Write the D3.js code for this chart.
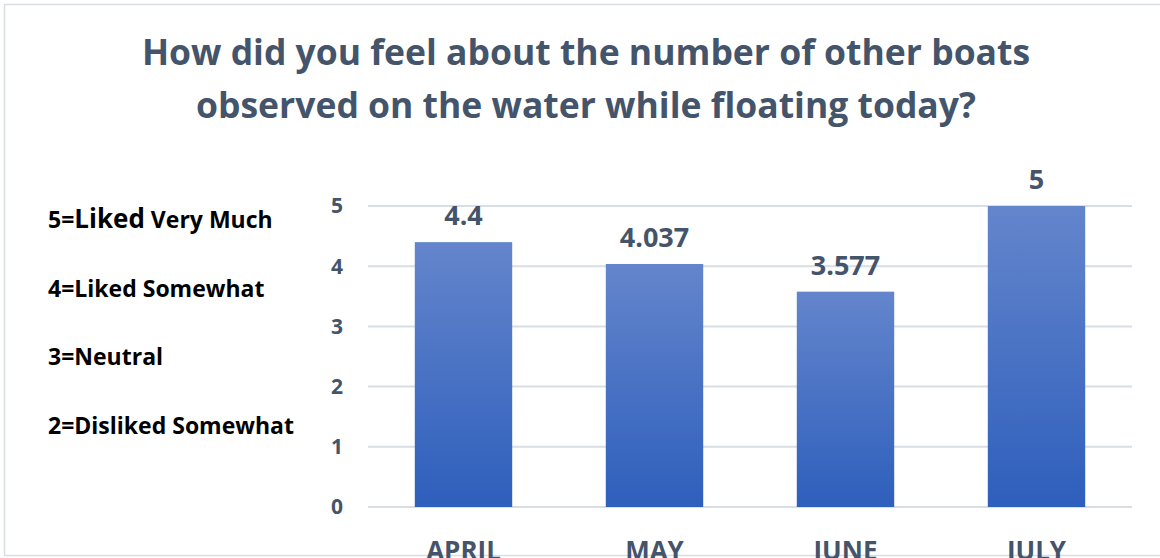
<!doctype html>
<html lang="en">
<head>
<meta charset="UTF-8">
<title>boats</title>
<script src="https://cdn.jsdelivr.net/npm/d3@7"></script>
<style>
  body { margin: 0; background: #fff; }
  text { font-family: "Open Sans", "Liberation Sans", sans-serif; font-weight: bold; }
</style>
</head>
<body>
<script>
  var width = 1160, height = 558;
  var margin = {left: 368, right: 28, top: 206, bottom: 51};

  var months = ["APRIL", "MAY", "JUNE", "JULY"];
  var scores = [4.4, 4.037, 3.577, 5];
  var labels = ["4.4", "4.037", "3.577", "5"];
  var yTicks = [0, 1, 2, 3, 4, 5];
  var titleLines = ["How did you feel about the number of other boats",
                    "observed on the water while floating today?"];
  var scaleNotes = [["5=", "Liked", " Very Much"], ["4=", "Liked", " Somewhat"],
                    ["3=", "Neutral", ""], ["2=", "Disliked", " Somewhat"]];

  var svg = d3.select("body").append("svg")
      .attr("width", width)
      .attr("height", height);

  // bar gradient
  var grad = svg.append("defs").append("linearGradient")
      .attr("id", "barFill")
      .attr("x1", 0).attr("y1", 0).attr("x2", 0).attr("y2", 1);
  grad.append("stop").attr("offset", "0%").attr("stop-color", "#6485cc");
  grad.append("stop").attr("offset", "100%").attr("stop-color", "#2e5fbc");

  // frame
  svg.append("rect")
      .attr("x", 4.5).attr("y", 4.5)
      .attr("width", width + 10).attr("height", height - 7)
      .attr("fill", "none")
      .attr("stroke", "#d9dde4")
      .attr("stroke-width", 1.5);

  var x = d3.scaleBand()
      .domain(months)
      .range([margin.left, width - margin.right])
      .paddingInner(0.49)
      .paddingOuter(0.245);

  var y = d3.scaleLinear()
      .domain([0, 5])
      .range([height - margin.bottom, margin.top]);

  // gridlines
  svg.append("g").selectAll("line")
      .data(yTicks)
      .enter().append("line")
      .attr("x1", margin.left)
      .attr("x2", width - margin.right)
      .attr("y1", function(d) { return y(d); })
      .attr("y2", function(d) { return y(d); })
      .attr("stroke", "#d9dde4")
      .attr("stroke-width", 2);

  // y tick labels
  svg.append("g").selectAll("text")
      .data(yTicks)
      .enter().append("text")
      .attr("x", 337)
      .attr("y", function(d) { return y(d); })
      .attr("dy", "0.35em")
      .attr("text-anchor", "middle")
      .attr("fill", "#44546a")
      .style("font-size", "21px")
      .text(function(d) { return d; });

  // bars
  svg.append("g").selectAll("rect")
      .data(scores)
      .enter().append("rect")
      .attr("x", function(d, i) { return x(months[i]); })
      .attr("y", function(d) { return y(d); })
      .attr("width", x.bandwidth())
      .attr("height", function(d) { return y(0) - y(d); })
      .attr("fill", "url(#barFill)");

  // value labels
  svg.append("g").selectAll("text")
      .data(scores)
      .enter().append("text")
      .attr("x", function(d, i) { return x(months[i]) + x.bandwidth() / 2; })
      .attr("y", function(d) { return y(d) - 17; })
      .attr("text-anchor", "middle")
      .attr("fill", "#44546a")
      .style("font-size", "27px")
      .text(function(d, i) { return labels[i]; });

  // x labels (clipped by the bottom edge, as in the source)
  svg.append("g").selectAll("text")
      .data(months)
      .enter().append("text")
      .attr("x", function(d) { return x(d) + x.bandwidth() / 2; })
      .attr("y", 560)
      .attr("text-anchor", "middle")
      .attr("fill", "#44546a")
      .style("font-size", "26px")
      .text(function(d) { return d; });

  // title
  svg.append("g").selectAll("text")
      .data(titleLines)
      .enter().append("text")
      .attr("x", 586)
      .attr("y", function(d, i) { return 65 + i * 53; })
      .attr("text-anchor", "middle")
      .attr("fill", "#44546a")
      .style("font-size", "35.5px")
      .text(function(d) { return d; });

  // scale notes on the left
  var notes = svg.append("g").selectAll("text")
      .data(scaleNotes)
      .enter().append("text")
      .attr("x", 48)
      .attr("y", function(d, i) { return 228 + i * 68.5; })
      .attr("fill", "#000")
      .style("font-size", "23px");
  notes.append("tspan").text(function(d) { return d[0]; });
  notes.append("tspan")
      .style("font-size", function(d, i) { return i == 0 ? "26px" : "23px"; })
      .text(function(d) { return d[1]; });
  notes.append("tspan")
      .style("font-size", "23px")
      .text(function(d) { return d[2]; });
</script>
</body>
</html>
